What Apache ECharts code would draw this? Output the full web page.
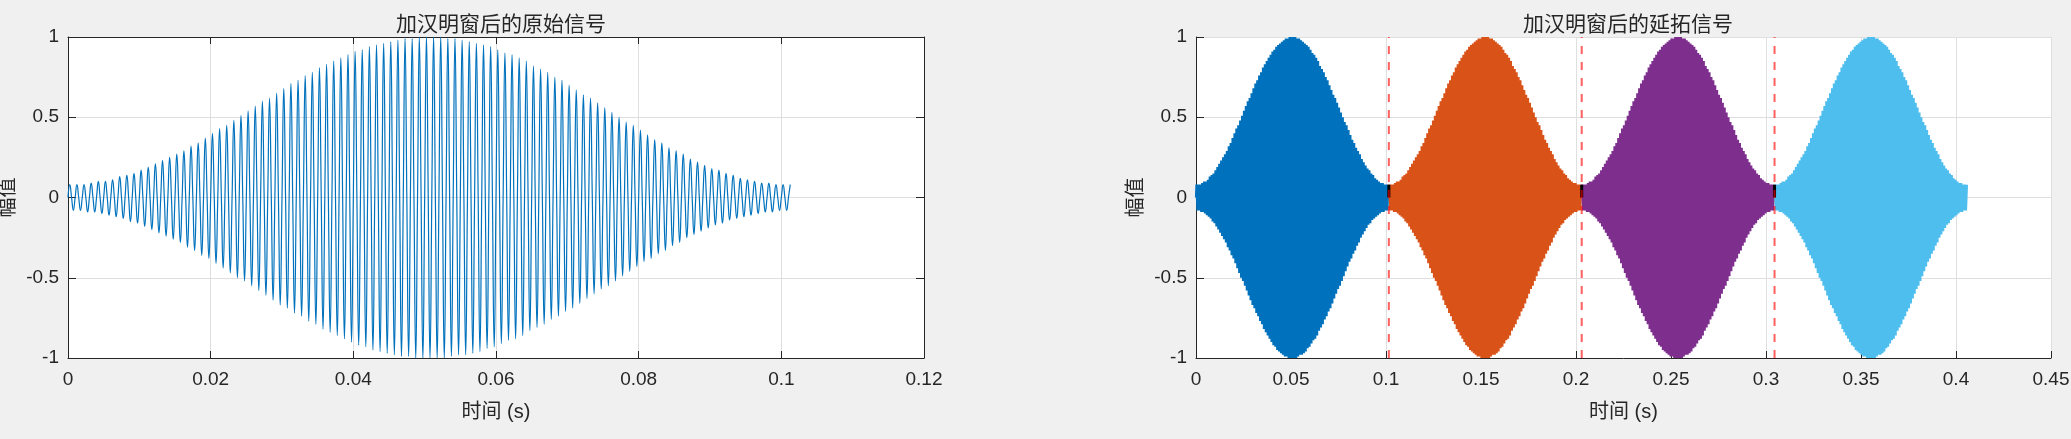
<!DOCTYPE html>
<html>
<head>
<meta charset="utf-8">
<script src="https://cdn.jsdelivr.net/npm/echarts@6/dist/echarts.min.js"></script>
<style>
html,body{margin:0;padding:0;background:#F0F0F0;}
#chart{width:2071px;height:439px;}
</style>
</head>
<body>
<div id="chart"></div>
<script>
// Peak (absolute) amplitude of each successive half-cycle extremum
const peakAmplitudes = [
  0.08,0.08,0.08,0.08,0.08,0.09,0.09,0.09,0.10,0.10,
  0.10,0.11,0.11,0.12,0.13,0.13,0.14,0.15,0.15,0.16,
  0.17,0.18,0.19,0.20,0.21,0.22,0.23,0.24,0.25,0.26,
  0.27,0.28,0.29,0.31,0.32,0.33,0.34,0.36,0.37,0.38,
  0.40,0.41,0.43,0.44,0.45,0.47,0.48,0.50,0.51,0.52,
  0.54,0.55,0.57,0.58,0.60,0.61,0.62,0.64,0.65,0.67,
  0.68,0.69,0.71,0.72,0.73,0.74,0.76,0.77,0.78,0.79,
  0.81,0.82,0.83,0.84,0.85,0.86,0.87,0.88,0.89,0.90,
  0.91,0.92,0.92,0.93,0.94,0.95,0.95,0.96,0.96,0.97,
  0.97,0.98,0.98,0.99,0.99,0.99,0.99,1.00,1.00,1.00,
  1.00,1.00,1.00,1.00,1.00,1.00,0.99,0.99,0.99,0.98,
  0.98,0.98,0.97,0.97,0.96,0.96,0.95,0.94,0.94,0.93,
  0.92,0.91,0.90,0.89,0.89,0.88,0.87,0.86,0.85,0.83,
  0.82,0.81,0.80,0.79,0.78,0.76,0.75,0.74,0.73,0.71,
  0.70,0.69,0.67,0.66,0.64,0.63,0.62,0.60,0.59,0.57,
  0.56,0.55,0.53,0.52,0.50,0.49,0.47,0.46,0.45,0.43,
  0.42,0.40,0.39,0.38,0.36,0.35,0.34,0.33,0.31,0.30,
  0.29,0.28,0.27,0.25,0.24,0.23,0.22,0.21,0.20,0.19,
  0.18,0.17,0.17,0.16,0.15,0.14,0.14,0.13,0.12,0.12,
  0.11,0.11,0.10,0.10,0.09,0.09,0.09,0.09,0.08,0.08,
  0.08,0.08,0.08
];
// Timing: extrema every half cycle (1 kHz tone)
const halfCycle = 0.0005;     // s between successive extrema / zero crossings
const firstPeakTime = 0.00025; // s
// Periodic extension: start times of each copy and boundary (dashed) lines
const segmentStarts = [0, 0.1015, 0.203, 0.3045];
const boundaryTimes = [0.1015, 0.203, 0.3045];
const boundaryMarkTop = 0.08;
const segmentColors = ['#0072BD', '#D95319', '#7E2F8E', '#4DBEEE'];
const titles = ['加汉明窗后的原始信号', '加汉明窗后的延拓信号'];
const xLabelName = '时间 (s)';
const yLabelName = '幅值';

// Build signal points: zero crossings between signed extrema
function buildSignal(offset) {
  const pts = [[offset + 0, 0]];
  for (let k = 0; k < peakAmplitudes.length; k++) {
    const sign = (k % 2 === 0) ? 1 : -1;
    const tp = firstPeakTime + k * halfCycle;
    pts.push([offset + tp, sign * peakAmplitudes[k]]);
    if (k < peakAmplitudes.length - 1) {
      pts.push([offset + (k + 1) * halfCycle, 0]);
    }
  }
  return pts;
}

const AX = '#262626';
const GRIDC = '#DFDFDF';
const LATIN = "'Liberation Sans', Arial, 'Noto Sans CJK SC'";
const CJK = "'Noto Sans CJK SC', 'Liberation Sans'";

function xAxisBottom(gi, max, interval) {
  return {
    type: 'value', gridIndex: gi, min: 0, max: max, interval: interval, position: 'bottom',
    axisLine: {show: true, onZero: false, lineStyle: {color: AX, width: 1}},
    axisTick: {show: true, inside: true, length: 7, lineStyle: {color: AX, width: 1}},
    axisLabel: {color: AX, fontSize: 19, margin: 12, fontFamily: LATIN},
    splitLine: {show: true, lineStyle: {color: GRIDC, width: 1}},
    name: xLabelName, nameLocation: 'middle', nameGap: 44,
    nameTextStyle: {color: AX, fontSize: 20, fontFamily: LATIN}
  };
}
function yAxisLeft(gi) {
  return {
    type: 'value', gridIndex: gi, min: -1, max: 1, interval: 0.5, position: 'left',
    axisLine: {show: true, onZero: false, lineStyle: {color: AX, width: 1}},
    axisTick: {show: true, inside: true, length: 8, lineStyle: {color: AX, width: 1}},
    axisLabel: {color: AX, fontSize: 19, margin: 9, fontFamily: LATIN},
    splitLine: {show: true, lineStyle: {color: GRIDC, width: 1}},
    name: yLabelName, nameLocation: 'middle', nameGap: 52,
    nameTextStyle: {color: AX, fontSize: 20, fontFamily: CJK}
  };
}

const series = [];
series.push({
  type: 'line', xAxisIndex: 0, yAxisIndex: 0, data: buildSignal(0),
  showSymbol: false, smooth: 0.5, silent: true,
  lineStyle: {color: '#0072BD', width: 1.2}
});
segmentStarts.forEach((s, i) => {
  series.push({
    type: 'line', xAxisIndex: 2, yAxisIndex: 2, data: buildSignal(s),
    showSymbol: false, silent: true,
    lineStyle: {color: segmentColors[i], width: 2.2}
  });
});
boundaryTimes.forEach((b) => {
  series.push({
    type: 'line', xAxisIndex: 2, yAxisIndex: 2, data: [[b, 0], [b, boundaryMarkTop]],
    showSymbol: false, silent: true, lineStyle: {color: '#000', width: 3}
  });
});
boundaryTimes.forEach((b) => {
  series.push({
    type: 'line', xAxisIndex: 2, yAxisIndex: 2, data: [[b, -1], [b, 1]],
    showSymbol: false, silent: true,
    lineStyle: {color: 'rgba(255,0,0,0.62)', width: 2, type: [8, 8]}
  });
});

const option = {
  backgroundColor: '#F0F0F0',
  animation: false,
  title: [
    {text: titles[0], left: 496, top: 8, textAlign: 'center',
     textStyle: {fontSize: 21, fontWeight: 'normal', color: AX, fontFamily: CJK}},
    {text: titles[1], left: 1623, top: 8, textAlign: 'center',
     textStyle: {fontSize: 21, fontWeight: 'normal', color: AX, fontFamily: CJK}}
  ],
  grid: [
    {left: 68, top: 37, width: 856, height: 321, show: true, backgroundColor: '#FFFFFF', borderWidth: 0,
     containLabel: false, outerBoundsMode: 'none'},
    {left: 1196, top: 37, width: 855, height: 321, show: true, backgroundColor: '#FFFFFF', borderWidth: 0,
     containLabel: false, outerBoundsMode: 'none'}
  ],
  xAxis: [
    xAxisBottom(0, 0.12, 0.02),
    {type: 'value', gridIndex: 0, min: 0, max: 0.12, interval: 0.02, position: 'top',
     axisLine: {show: true, onZero: false, lineStyle: {color: AX, width: 1}},
     axisTick: {show: true, inside: true, length: 7, lineStyle: {color: AX}},
     axisLabel: {show: false}, splitLine: {show: false}},
    xAxisBottom(1, 0.45, 0.05)
  ],
  yAxis: [
    yAxisLeft(0),
    {type: 'value', gridIndex: 0, min: -1, max: 1, interval: 0.5, position: 'right',
     axisLine: {show: true, onZero: false, lineStyle: {color: AX, width: 1}},
     axisTick: {show: true, inside: true, length: 8, lineStyle: {color: AX}},
     axisLabel: {show: false}, splitLine: {show: false}},
    yAxisLeft(1)
  ],
  series: series
};

const chart = echarts.init(document.getElementById('chart'), null, {renderer: 'canvas'});
chart.setOption(option);
</script>
</body>
</html>
